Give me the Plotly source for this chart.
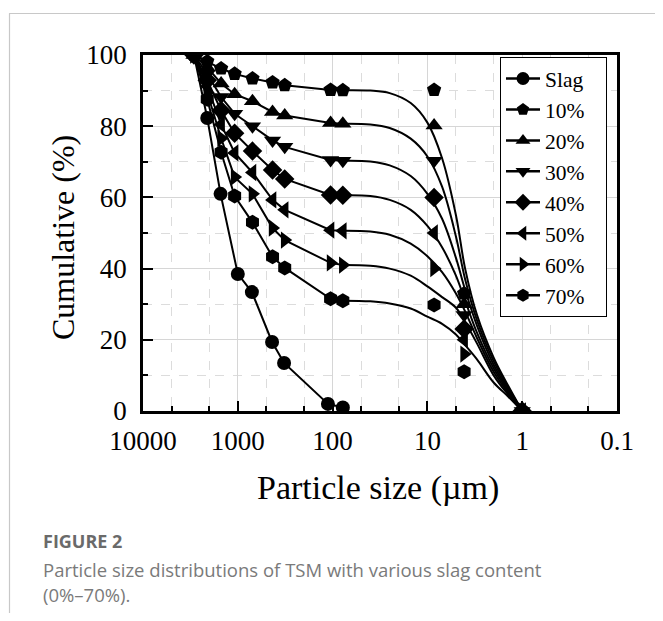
import plotly.graph_objects as go

# ---------------- data ----------------
series_names = ["Slag", "10%", "20%", "30%", "40%", "50%", "60%", "70%"]
symbols = ["circle", "pentagon", "triangle-up", "triangle-down", "diamond",
           "triangle-left", "triangle-right", "hexagon"]

# sieve sizes (µm) of the measured points
slag_sizes = [2900, 2100, 1520, 1000, 710, 435, 325, 112, 78]
mix_sizes = [2900, 2100, 1500, 1080, 700, 430, 320, 105, 78, 8.5, 4.1, 1.0]

slag = [100, 82.3, 61, 38.5, 33.4, 19.4, 13.5, 2.0, 1.0]
p10 = [100, 98.2, 96.2, 94.7, 93.4, 92.3, 91.5, 90.2, 90.1, 90.2, 33, 0]
p20 = [100, 96.5, 92.0, 89.0, 87.0, 84.0, 83.0, 80.9, 80.7, 80.2, 30, 0]
p30 = [100, 94.7, 88.2, 83.5, 80.0, 76.0, 74.2, 70.5, 70.3, 70.3, 27, 0]
p40 = [100, 92.9, 84.4, 78.0, 73.0, 67.7, 65.2, 60.7, 60.6, 60.0, 23, 0]
p50 = [100, 91.2, 80.5, 72.5, 67.0, 59.3, 56.5, 50.8, 50.6, 50.0, 20, 0]
p60 = [100, 89.4, 76.6, 65.7, 61.0, 51.4, 48.0, 41.6, 41.0, 40.0, 16, 0]
p70 = [100, 87.6, 72.7, 60.4, 53.0, 43.3, 40.2, 31.5, 31.0, 29.8, 11, 0]

# fitted smooth curves (fine fraction)
curve_sizes = [78, 40, 25, 15, 10, 7, 5, 4, 3, 2, 1.4, 1.0]
c10 = [90.1, 90.0, 89.3, 86.5, 81.0, 71.0, 55.0, 40.0, 27.0, 15.0, 7.0, 0]
c20 = [80.7, 80.5, 79.5, 76.5, 71.5, 63.0, 49.0, 37.0, 25.5, 14.0, 6.5, 0]
c30 = [70.3, 70.1, 69.0, 66.0, 61.0, 54.0, 43.0, 34.0, 24.0, 13.0, 6.0, 0]
c40 = [60.6, 60.4, 59.3, 56.5, 52.0, 46.0, 38.0, 31.0, 22.0, 12.0, 5.5, 0]
c50 = [50.6, 50.4, 49.5, 47.0, 43.5, 39.0, 33.0, 28.0, 20.5, 11.0, 5.0, 0]
c60 = [41.0, 40.8, 40.0, 38.0, 35.0, 32.0, 29.0, 25.0, 19.0, 10.0, 4.5, 0]
c70 = [31.0, 30.8, 30.2, 28.8, 26.5, 24.5, 21.5, 18.5, 14.5, 8.0, 4.0, 0]

x_ticks = [10000, 1000, 100, 10, 1, 0.1]
x_tick_text = ["10000", "1000", "100", "10", "1", "0.1"]
y_ticks = [0, 20, 40, 60, 80, 100]

mixes = [p10, p20, p30, p40, p50, p60, p70]
curves = [c10, c20, c30, c40, c50, c60, c70]

# ---------------- figure ----------------
OFF = 8                      # page body margin
W, H = 663 - OFF, 621 - 2 * OFF
L, R, T, B = 143, 617, 55, 411   # plot area in page pixels


def px(xp):
    return (xp - L) / (R - L)


def py(yp):
    return (B - yp) / (B - T)


SERIF = "Liberation Serif, Times New Roman, serif"
SANS = "Open Sans, Noto Sans, sans-serif"
BLACK = "#000000"
fig = go.Figure()

# slag
fig.add_trace(go.Scatter(x=slag_sizes, y=slag, mode="lines+markers",
                         line=dict(color=BLACK, width=2),
                         marker=dict(symbol=symbols[0], size=14, color=BLACK),
                         showlegend=False, hoverinfo="skip"))

for i, (vals, cv) in enumerate(zip(mixes, curves)):
    sym = symbols[i + 1]
    fig.add_trace(go.Scatter(x=mix_sizes[:9], y=vals[:9], mode="lines",
                             line=dict(color=BLACK, width=2),
                             showlegend=False, hoverinfo="skip"))
    fig.add_trace(go.Scatter(x=curve_sizes, y=cv, mode="lines",
                             line=dict(color=BLACK, width=2, shape="spline",
                                       smoothing=1.0),
                             showlegend=False, hoverinfo="skip"))
    fig.add_trace(go.Scatter(x=mix_sizes, y=vals, mode="markers",
                             marker=dict(symbol=sym, size=15, color=BLACK),
                             showlegend=False, hoverinfo="skip"))

# legend entries
for name, sym in zip(series_names, symbols):
    fig.add_trace(go.Scatter(x=[None], y=[None], mode="lines+markers",
                             name=name + "\u00a0\u00a0\u00a0",
                             line=dict(color=BLACK, width=2.5),
                             marker=dict(symbol=sym, size=13, color=BLACK)))

grid_major = "#d6d6d6"
grid_minor = "#dcdcdc"

fig.update_xaxes(
    type="log", range=[4, -1],
    tickvals=x_ticks, ticktext=x_tick_text,
    ticks="inside", ticklen=10, tickwidth=2, tickcolor=BLACK,
    showline=True, linewidth=2.5, linecolor=BLACK, mirror=True,
    showgrid=True, gridcolor=grid_major, gridwidth=1,
    tickfont=dict(family=SERIF, size=27, color=BLACK),
    ticklabelstandoff=4,
    minor=dict(ticks="inside", ticklen=5, tickwidth=1.5, tickcolor=BLACK,
               showgrid=True, gridcolor=grid_minor, griddash="dash",
               gridwidth=1),
    zeroline=False,
)
fig.update_yaxes(
    range=[0, 100], tickvals=y_ticks,
    ticks="inside", ticklen=10, tickwidth=2, tickcolor=BLACK,
    showline=True, linewidth=2.5, linecolor=BLACK, mirror=True,
    showgrid=True, gridcolor=grid_major, gridwidth=1,
    tickfont=dict(family=SERIF, size=27, color=BLACK),
    ticklabelstandoff=8,
    minor=dict(dtick=10, ticks="inside", ticklen=5, tickwidth=1.5,
               tickcolor=BLACK, showgrid=True, gridcolor=grid_minor,
               griddash="dash", gridwidth=1),
    zeroline=False,
)

annotations = [
    dict(text="Particle size (µm)", x=px(378), y=py(488),
         xref="paper", yref="paper", showarrow=False,
         font=dict(family=SERIF, size=34, color=BLACK),
         xanchor="center", yanchor="middle"),
    dict(text="Cumulative (%)", x=px(63), y=py(238), textangle=-90,
         xref="paper", yref="paper", showarrow=False,
         font=dict(family=SERIF, size=32, color=BLACK),
         xanchor="center", yanchor="middle"),
    dict(text="<b>FIGURE 2</b>", x=px(41), y=py(541),
         xref="paper", yref="paper", showarrow=False,
         font=dict(family=SANS, size=18, color="#6a6a6a"),
         xanchor="left", yanchor="middle"),
    dict(text="Particle size distributions of TSM with various slag content",
         x=px(41), y=py(569), xref="paper", yref="paper", showarrow=False,
         font=dict(family=SANS, size=18.5, color="#7a7a7a"),
         xanchor="left", yanchor="middle"),
    dict(text="(0%–70%).", x=px(41), y=py(594),
         xref="paper", yref="paper", showarrow=False,
         font=dict(family=SANS, size=18.5, color="#7a7a7a"),
         xanchor="left", yanchor="middle"),
]

shapes = [
    dict(type="line", xref="paper", yref="paper", x0=px(9), x1=px(670),
         y0=py(13.5), y1=py(13.5), line=dict(color="#c8c8c8", width=1.2)),
    dict(type="line", xref="paper", yref="paper", x0=px(9.5), x1=px(9.5),
         y0=py(13.5), y1=py(640), line=dict(color="#c8c8c8", width=1.2)),
]

fig.update_layout(
    width=W, height=H,
    margin=dict(l=L - OFF, r=W - (R - OFF), t=T - OFF, b=H - (B - OFF), pad=0),
    plot_bgcolor="white", paper_bgcolor="white",
    showlegend=True,
    legend=dict(x=px(500), y=py(57), xanchor="left", yanchor="top",
                bgcolor="white", bordercolor=BLACK, borderwidth=1,
                font=dict(family=SERIF, size=21.5, color=BLACK),
                itemwidth=34, tracegroupgap=0),
    annotations=annotations, shapes=shapes,
)

fig.write_html("out.html")
